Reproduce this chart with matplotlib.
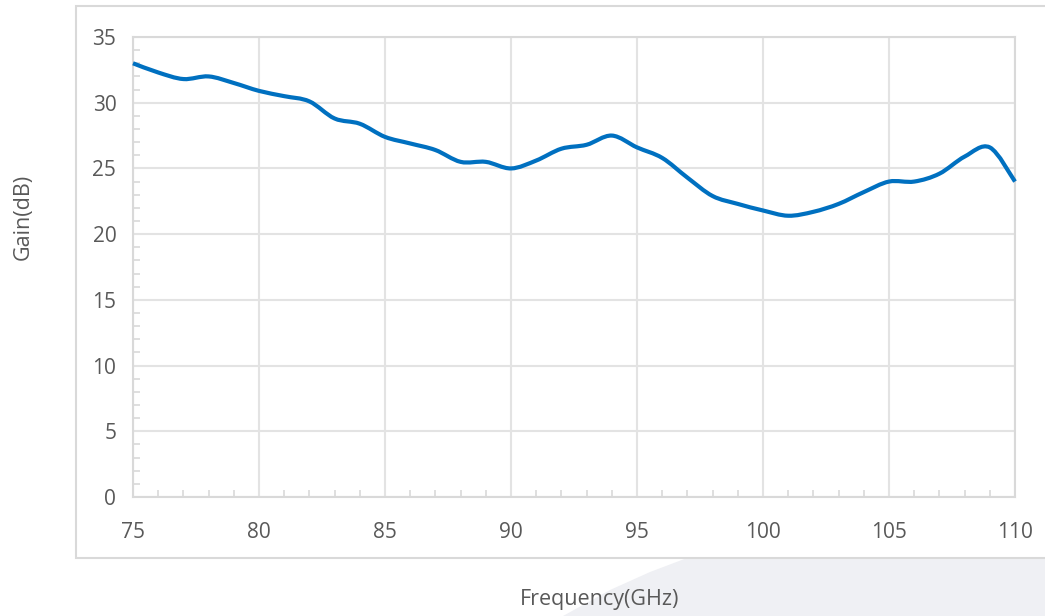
import matplotlib
matplotlib.use("Agg")
import matplotlib.pyplot as plt
from matplotlib.patches import Rectangle, Polygon, PathPatch
from matplotlib.path import Path
from matplotlib.ticker import MultipleLocator

freq_ghz = [75, 76, 77, 78, 79, 80, 81, 82, 83, 84, 85, 86, 87, 88, 89, 90, 91, 92,
            93, 94, 95, 96, 97, 98, 99, 100, 101, 102, 103, 104, 105, 106, 107, 108, 109, 110]
gain_db = [33.0, 32.3, 31.8, 32.0, 31.5, 30.9, 30.5, 30.1, 28.8, 28.4, 27.4, 26.9, 26.4, 25.5,
           25.5, 25.0, 25.6, 26.5, 26.8, 27.5, 26.6, 25.8, 24.3, 22.9, 22.3, 21.8, 21.4, 21.7,
           22.3, 23.2, 24.0, 24.0, 24.6, 25.9, 26.6, 24.0]
x_ticks = [75, 80, 85, 90, 95, 100, 105, 110]
y_ticks = [0, 5, 10, 15, 20, 25, 30, 35]


def smooth_path(xs, ys):
    """Excel-style smoothed line: cubic Bezier segments through every data point."""
    n = len(xs)
    verts = [(xs[0], ys[0])]
    codes = [Path.MOVETO]
    for i in range(n - 1):
        x0, y0 = (xs[i - 1], ys[i - 1]) if i > 0 else (xs[i], ys[i])
        x1, y1 = xs[i], ys[i]
        x2, y2 = xs[i + 1], ys[i + 1]
        x3, y3 = (xs[i + 2], ys[i + 2]) if i + 2 < n else (x2, y2)
        c1 = (x1 + (x2 - x0) / 6.0, y1 + (y2 - y0) / 6.0)
        c2 = (x2 - (x3 - x1) / 6.0, y2 - (y3 - y1) / 6.0)
        verts += [c1, c2, (x2, y2)]
        codes += [Path.CURVE4] * 3
    return Path(verts, codes)


W, H = 1045, 616
plt.rcParams['font.family'] = ['Open Sans', 'DejaVu Sans']
fig = plt.figure(figsize=(W / 100, H / 100), dpi=100)
fig.patch.set_facecolor('white')

# decorative background shape (bottom right)
bg = Polygon([(687 / W, 1 - 558 / H), (1.0, 1 - 558 / H), (1.0, 0.0), (563 / W, 0.0),
              (610 / W, 1 - 590 / H), (650 / W, 1 - 572 / H)],
             closed=True, transform=fig.transFigure, facecolor='#eff0f4', edgecolor='none', zorder=-2)
fig.patches.append(bg)
# outer chart frame
frame = Rectangle((76 / W, 1 - 558 / H), (1060 - 76) / W, (558 - 6) / H, transform=fig.transFigure,
                  facecolor='white', edgecolor='#d9d9d9', linewidth=1.5, zorder=-1)
fig.patches.append(frame)

ax = fig.add_axes([133 / W, 1 - 497 / H, (1015 - 133) / W, (497 - 37) / H])
ax.set_zorder(2)
ax.set_facecolor('white')
ax.add_patch(PathPatch(smooth_path(freq_ghz, gain_db), facecolor='none', edgecolor='#0070c0',
                       linewidth=3.0, capstyle='butt', joinstyle='round', zorder=3, clip_on=False))
ax.set_xlim(75, 110)
ax.set_ylim(0, 35)
ax.set_xticks(x_ticks)
ax.set_yticks(y_ticks)
ax.xaxis.set_minor_locator(MultipleLocator(1))
ax.yaxis.set_minor_locator(MultipleLocator(1))
ax.grid(True, which='major', color='#e3e3e3', linewidth=1.5)
ax.set_axisbelow(True)
for s in ax.spines.values():
    s.set_color('#d9d9d9')
    s.set_linewidth(1.5)
ax.tick_params(axis='both', which='both', direction='in', color='#d9d9d9', width=1.2,
               labelcolor='#595959', labelsize=15)
ax.tick_params(axis='both', which='major', length=0)
ax.tick_params(axis='both', which='minor', length=5)
ax.tick_params(axis='x', which='major', pad=18)
ax.tick_params(axis='y', which='major', pad=12)

fig.text(23 / W, 1 - 217 / H, 'Gain(dB)', rotation=90, ha='center', va='center',
         color='#595959', fontsize=15.5)
fig.text(600 / W, 1 - 600 / H, 'Frequency(GHz)', ha='center', va='center',
         color='#595959', fontsize=15.5)

fig.savefig('out.png', dpi=100, facecolor='white')
